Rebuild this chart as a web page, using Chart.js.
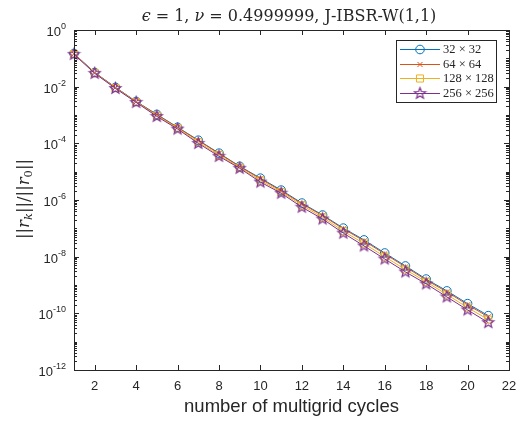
<!DOCTYPE html>
<html>
<head>
<meta charset="utf-8">
<script src="https://cdn.jsdelivr.net/npm/chart.js"></script>
<style>
	html, body { margin: 0; background: #fff; }
	#wrap { width: 519px; height: 423px; }
</style>
</head>
<body>
<div id="wrap"><canvas id="chart" width="519" height="423"></canvas></div>
<script>
// Residual history per mesh size.
const cycles = [ 1, 2, 3, 4, 5, 6, 7, 8, 9, 10, 11, 12, 13, 14, 15, 16, 17, 18, 19, 20, 21 ];
const res32 = [ 1.48e-1, 3.16e-2, 9.5e-3, 3.0e-3, 1.05e-3, 3.7e-4, 1.29e-4, 4.5e-5, 1.55e-5, 5.9e-6, 2.24e-6,
	7.8e-7, 2.95e-7, 1.02e-7, 3.9e-8, 1.35e-8, 4.7e-9, 1.62e-9, 6.2e-10, 2.2e-10, 8.3e-11 ];
const res64 = [ 1.45e-1, 3.1e-2, 9.3e-3, 2.95e-3, 1.02e-3, 3.6e-4, 1.25e-4, 4.35e-5, 1.5e-5, 5.6e-6, 2.1e-6,
	7.4e-7, 2.8e-7, 9.6e-8, 3.6e-8, 1.25e-8, 4.35e-9, 1.5e-9, 5.7e-10, 2.0e-10, 7.5e-11 ];
const res128 = [ 1.42e-1, 3.03e-2, 9.0e-3, 2.88e-3, 9.5e-4, 3.4e-4, 1.1e-4, 3.9e-5, 1.4e-5, 4.9e-6, 1.92e-6,
	6.5e-7, 2.45e-7, 8.0e-8, 2.9e-8, 1.0e-8, 3.5e-9, 1.3e-9, 4.6e-10, 1.6e-10, 6.0e-11 ];
const res256 = [ 1.38e-1, 2.95e-2, 8.7e-3, 2.8e-3, 8.9e-4, 3.2e-4, 1.0e-4, 3.5e-5, 1.32e-5, 4.3e-6, 1.74e-6,
	5.6e-7, 2.14e-7, 6.8e-8, 2.4e-8, 8.3e-9, 2.9e-9, 1.1e-9, 3.8e-10, 1.32e-10, 4.7e-11 ];
const seriesNames = [ '32 \u00d7 32', '64 \u00d7 64', '128 \u00d7 128', '256 \u00d7 256' ];
const xTicks = [ 2, 4, 6, 8, 10, 12, 14, 16, 18, 20, 22 ];
const yTickExps = [ 0, -2, -4, -6, -8, -10, -12 ];

const INK = '#262626';
const SANS = '"Liberation Sans", Arial, sans-serif';
const SERIF = '"Liberation Serif", "DejaVu Serif", serif';
const WIDE_SERIF = '"DejaVu Serif", serif';

function pentagram( color, r ) {
	const c = document.createElement( 'canvas' );
	const s = Math.ceil( r * 2 + 3 );
	c.width = c.height = s;
	const g = c.getContext( '2d' );
	g.strokeStyle = color;
	g.lineWidth = 1.2;
	g.beginPath();
	for ( let i = 0; i < 10; i++ ) {
		const rr = i % 2 ? r * 0.42 : r;
		const a = -Math.PI / 2 + i * Math.PI / 5;
		g.lineTo( s / 2 + rr * Math.cos( a ), s / 2 + rr * Math.sin( a ) );
	}
	g.closePath();
	g.stroke();
	return c;
}

const series = [
	{ data: res32, color: '#0072BD', style: 'circle', radius: 4.3 },
	{ data: res64, color: '#D95319', style: 'crossRot', radius: 3.6 },
	{ data: res128, color: '#EDB120', style: 'rect', radius: 5 },
	{ data: res256, color: '#7E2F8E', style: pentagram( '#7E2F8E', 5.8 ), radius: 5 },
];

// draw segments of mixed-style text, left to right from x
function drawRuns( ctx, runs, x, y ) {
	runs.forEach( ( r ) => {
		ctx.font = r.font;
		ctx.fillText( r.text, x, y + ( r.dy || 0 ) );
		x += ctx.measureText( r.text ).width;
	} );
}
function runsWidth( ctx, runs ) {
	return runs.reduce( ( w, r ) => { ctx.font = r.font; return w + ctx.measureText( r.text ).width; }, 0 );
}

const matlabAxes = {
	id: 'matlabAxes',
	afterDatasetsDraw( chart ) {
		const { ctx, chartArea: a, scales: { x, y } } = chart;
		ctx.save();
		ctx.strokeStyle = INK;
		ctx.lineWidth = 1;

		// box
		ctx.strokeRect( Math.round( a.left ) + 0.5, Math.round( a.top ) + 0.5,
			Math.round( a.right - a.left ), Math.round( a.bottom - a.top ) );

		ctx.beginPath();
		xTicks.forEach( ( v ) => {
			const px = Math.round( x.getPixelForValue( v ) ) + 0.5;
			ctx.moveTo( px, a.bottom ); ctx.lineTo( px, a.bottom - 5 );
			ctx.moveTo( px, a.top ); ctx.lineTo( px, a.top + 5 );
		} );
		for ( let e = -12; e <= 0; e++ ) {
			for ( let m = 1; m <= 9; m++ ) {
				const v = m * Math.pow( 10, e );
				if ( v > 1.0000001 ) continue;
				const major = m === 1 && yTickExps.includes( e );
				const len = major ? 5 : 3;
				const py = Math.round( y.getPixelForValue( v ) ) + 0.5;
				ctx.moveTo( a.left, py ); ctx.lineTo( a.left + len, py );
				ctx.moveTo( a.right, py ); ctx.lineTo( a.right - len, py );
			}
		}
		ctx.stroke();

		// legend
		const lx = 396.5, ly = 40.5, lw = 100, lh = 62;
		ctx.fillStyle = '#fff';
		ctx.fillRect( lx, ly, lw, lh );
		ctx.strokeRect( lx, ly, lw, lh );
		chart.data.datasets.forEach( ( ds, i ) => {
			const ry = Math.round( 49 + i * 14.7 ) + 0.5;
			ctx.strokeStyle = ds.borderColor;
			ctx.beginPath();
			ctx.moveTo( 400, ry ); ctx.lineTo( 440, ry );
			ctx.stroke();
			ctx.fillStyle = 'rgba(0,0,0,0)';
			Chart.helpers.drawPoint( ctx, { pointStyle: ds.pointStyle, rotation: 0, radius: ds.pointRadius, borderWidth: 1 }, 420, ry );
			ctx.fillStyle = INK;
			ctx.font = '12.5px ' + SERIF;
			ctx.textAlign = 'left';
			ctx.textBaseline = 'middle';
			ctx.fillText( seriesNames[ i ], 443, ry + 0.5 );
		} );
		ctx.restore();
	},
	afterDraw( chart ) {
		const { ctx, chartArea: a, scales: { x, y } } = chart;
		ctx.save();
		ctx.fillStyle = INK;

		// x tick labels
		ctx.font = '13px ' + SANS;
		ctx.textAlign = 'center';
		ctx.textBaseline = 'middle';
		xTicks.forEach( ( v ) => ctx.fillText( String( v ), x.getPixelForValue( v ), a.bottom + 16 ) );

		// y tick labels 10^e
		ctx.textAlign = 'right';
		ctx.textBaseline = 'alphabetic';
		yTickExps.forEach( ( e ) => {
			const py = y.getPixelForValue( Math.pow( 10, e ) );
			const exp = e === 0 ? '0' : '-' + Math.abs( e );
			ctx.font = '9px ' + SANS;
			const ew = ctx.measureText( exp ).width;
			ctx.fillText( exp, 66, py - 1 );
			ctx.font = '13px ' + SANS;
			ctx.fillText( '10', 66 - ew, py + 6 );
		} );

		// x axis title
		ctx.textAlign = 'center';
		ctx.textBaseline = 'middle';
		ctx.font = '18.5px ' + SANS;
		ctx.fillText( 'number of multigrid cycles', ( a.left + a.right ) / 2, 407 );

		// title
		ctx.textAlign = 'left';
		ctx.textBaseline = 'alphabetic';
		const title = [
			{ text: '\u03f5', font: 'italic 16px ' + WIDE_SERIF },
			{ text: ' = 1, ', font: '16px ' + WIDE_SERIF },
			{ text: '\u03bd', font: 'italic 16px ' + WIDE_SERIF },
			{ text: ' = 0.4999999, J-IBSR-W(1,1)', font: '16px ' + WIDE_SERIF },
		];
		drawRuns( ctx, title, 289 - runsWidth( ctx, title ) / 2, 20.5 );

		// y axis title ||r_k||/||r_0||
		const ylab = [
			{ text: '||', font: '16.5px ' + WIDE_SERIF },
			{ text: 'r', font: 'italic 16.5px ' + WIDE_SERIF },
			{ text: 'k', font: 'italic 11.5px ' + WIDE_SERIF, dy: 3 },
			{ text: '||/||', font: '16.5px ' + WIDE_SERIF },
			{ text: 'r', font: 'italic 16.5px ' + WIDE_SERIF },
			{ text: '0', font: '11.5px ' + WIDE_SERIF, dy: 3 },
			{ text: '||', font: '16.5px ' + WIDE_SERIF },
		];
		ctx.translate( 29, 199 );
		ctx.rotate( -Math.PI / 2 );
		drawRuns( ctx, ylab, -runsWidth( ctx, ylab ) / 2, 0 );
		ctx.restore();
	},
};

new Chart( document.getElementById( 'chart' ), {
	type: 'line',
	data: {
		labels: cycles,
		datasets: series.map( ( s, i ) => ( {
			label: seriesNames[ i ],
			data: cycles.map( ( c, k ) => ( { x: c, y: s.data[ k ] } ) ),
			borderColor: s.color,
			backgroundColor: 'rgba(0,0,0,0)',
			borderWidth: 1,
			pointStyle: s.style,
			pointRadius: s.radius,
			pointBorderWidth: 1,
			pointBorderColor: s.color,
			pointBackgroundColor: 'rgba(0,0,0,0)',
			tension: 0,
			clip: false,
			order: series.length - i,
		} ) ),
	},
	options: {
		responsive: false,
		animation: false,
		events: [],
		layout: { padding: { left: 74, right: 10, top: 30, bottom: 53 } },
		plugins: { legend: { display: false }, tooltip: { enabled: false }, title: { display: false } },
		scales: {
			x: { type: 'linear', min: 1, max: 22, display: false },
			y: { type: 'logarithmic', min: 1e-12, max: 1, display: false },
		},
	},
	plugins: [ matlabAxes ],
} );
</script>
</body>
</html>
